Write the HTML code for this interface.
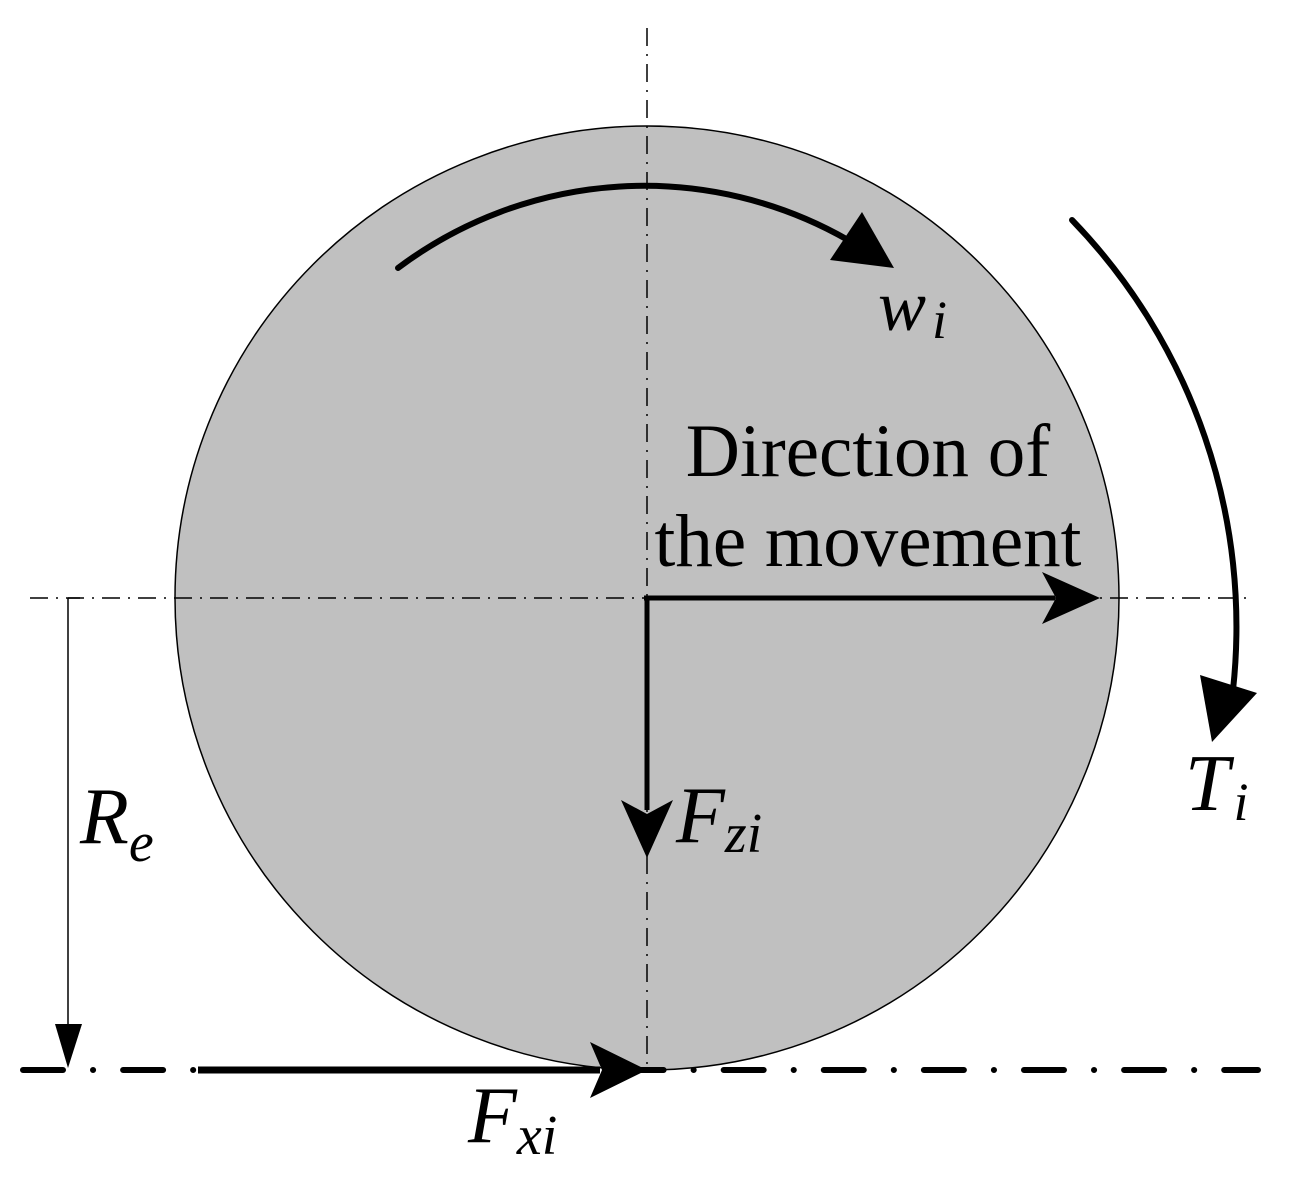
<!DOCTYPE html>
<html><head><style>body{margin:0;background:#fff}svg{display:block}</style></head><body>
<svg width="1292" height="1177" viewBox="0 0 1292 1177" xmlns="http://www.w3.org/2000/svg">
<circle cx="647" cy="598" r="472" fill="#c0c0c0" stroke="#000" stroke-width="1.5"/>
<line x1="647" y1="28" x2="647" y2="1070" stroke="#000" stroke-width="1.5" stroke-dasharray="18,8,2,8"/>
<line x1="30" y1="598" x2="1252" y2="598" stroke="#000" stroke-width="1.5" stroke-dasharray="18,8,2,8"/>
<line x1="68" y1="598" x2="68" y2="1035" stroke="#000" stroke-width="1.5"/>
<line x1="68" y1="598" x2="80" y2="598" stroke="#000" stroke-width="1.5"/>
<polygon points="55,1024 82,1024 68,1068" fill="#000"/>
<line x1="20" y1="1070" x2="1258" y2="1070" stroke="#000" stroke-width="6" stroke-linecap="round" stroke-dasharray="40,30,0.1,30" stroke-dashoffset="-3"/>
<line x1="198" y1="1070" x2="600" y2="1070" stroke="#000" stroke-width="7"/>
<polygon points="590,1042 647,1070 590,1098 602,1070" fill="#000"/>
<line x1="647" y1="598" x2="1055" y2="598" stroke="#000" stroke-width="5"/>
<polygon points="1042,572 1100,598 1042,624 1056,598" fill="#000"/>
<line x1="647" y1="598" x2="647" y2="810" stroke="#000" stroke-width="5"/>
<line x1="644" y1="598" x2="650" y2="598" stroke="#000" stroke-width="5"/>
<polygon points="621,800 647,858 673,800 647,814" fill="#000"/>
<path d="M398,268 A410,410 0 0 1 848,240" fill="none" stroke="#000" stroke-width="6" stroke-linecap="round"/>
<polygon points="830,260 862,212 894,268" fill="#000"/>
<path d="M1072,220 A585,585 0 0 1 1233,690" fill="none" stroke="#000" stroke-width="6" stroke-linecap="round"/>
<polygon points="1200,675 1257,693 1212,742" fill="#000"/>
<g font-family="Liberation Serif, serif" fill="#000">
<text x="868" y="476" font-size="75" text-anchor="middle">Direction of</text>
<text x="868" y="566" font-size="75" text-anchor="middle">the movement</text>
<g font-style="italic">
<text x="878" y="330" font-size="72">w<tspan font-size="54" dy="8" dx="6">i</tspan></text>
<text x="1185" y="810" font-size="80">T<tspan font-size="54" dy="10" dx="4">i</tspan></text>
<text x="80" y="843" font-size="80">R<tspan font-size="56" dy="18">e</tspan></text>
<text x="676" y="842" font-size="80">F<tspan font-size="56" dy="10">zi</tspan></text>
<text x="468" y="1142" font-size="80">F<tspan font-size="56" dy="12">xi</tspan></text>
</g></g>
</svg>
</body></html>
